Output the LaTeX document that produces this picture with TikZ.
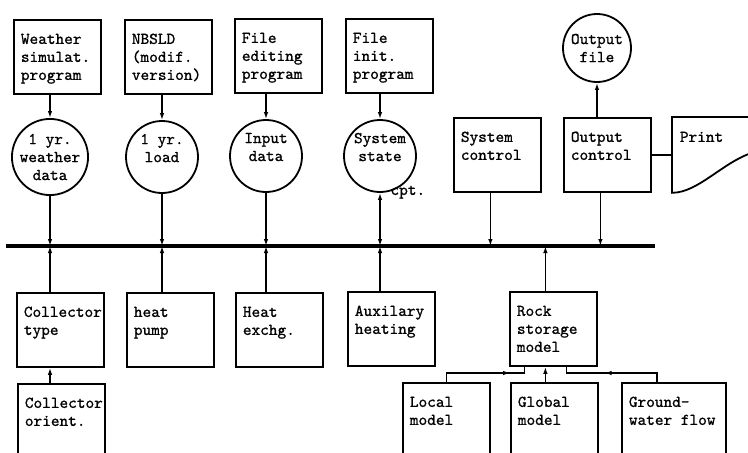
\documentclass[tikz,border=0pt]{standalone}
\usepackage{fontspec}
\newfontfamily\tw{lmmono10-regular.otf}[FakeBold=1]
\usetikzlibrary{arrows.meta,decorations.markings}
% text of a block: top left, first baseline 24pt below the frame
\newcommand{\blk}[2][73pt]{\parbox[c][74pt][t]{#1}{\raggedright\rule{0pt}{24pt}#2}}
\begin{document}
\begin{tikzpicture}[x=1pt,y=-1pt,
	font=\tw\fontsize{16.5}{18}\selectfont,
	>={Latex[length=7pt,width=4.5pt]},
	box/.style={draw,line width=1.8pt,anchor=north west,inner xsep=7pt,inner ysep=0pt},
	dat/.style={draw,line width=1.8pt,circle,minimum size=72pt,inner sep=0pt,align=center},
	link/.style={line width=1.6pt},
	midarr/.style={postaction={decorate},decoration={markings,mark=at position #1 with {\arrow{>}}}}]
	\useasboundingbox (0,0) rectangle (748,453);
	\clip (0,0) rectangle (748,453);

	% programs and the files they make
	\node[box] (wsim) at (13,19) {\blk{Weather\\simulat.\\program}};
	\node[box] (nbsld) at (124,19) {\blk{NBSLD\\(modif.\\version)}};
	\node[box] (fedit) at (234,18) {\blk{File\\editing\\program}};
	\node[box] (finit) at (345,18) {\blk{File\\init.\\program}};
	\node[dat] (wdat) at (50,157) {1 yr.\\weather\\data};
	\node[dat] (load) at (162,157) {1 yr.\\load\\\mbox{}};
	\node[dat] (inp) at (266,156) {Input\\data\\\mbox{}};
	\node[dat] (state) at (380,156) {System\\state\\\mbox{}};
	\node[anchor=base west] (cpt) at ([xshift=7pt,yshift=-2pt]state.south) {cpt.};

	% control and output
	\node[box] (ctrl) at (453,117) {\blk{System\\control}};
	\node[box] (outc) at (563,117) {\blk{Output\\control}};
	\node[dat,minimum size=68pt] (ofile) at (597,48) {Output\\file};
	\node[box,draw=none] (prt) at (672,117) {\blk{Print}};
	\draw[line width=1.8pt] (prt.north east) -- (prt.north west) -- (prt.south west)
		.. controls +(26,0) and +(-30,10) .. +(80,-40);

	% the bus
	\coordinate (busL) at (6,246);
	\coordinate (busR) at (655,246);
	\draw[line width=4pt] (busL) -- (busR);

	% component models
	\node[box] (ctype) at (16,292) {\blk{Collector\\type}};
	\node[box] (hpump) at (126,292) {\blk{heat\\pump}};
	\node[box] (hexch) at (235,292) {\blk{Heat\\exchg.}};
	\node[box] (aux) at (347,291) {\blk{Auxilary\\heating}};
	\node[box] (rock) at (509,291) {\blk{Rock\\storage\\model}};
	\node[box] (orient) at (17,383) {\blk{Collector\\orient.}};
	\node[box] (loc) at (402,382) {\blk{Local\\model}};
	\node[box] (glob) at (510,382) {\blk{Global\\model}};
	\node[box] (gw) at (621,382) {\blk[90pt]{Ground-\\water flow}};

	\foreach \s/\d in {wsim/wdat,nbsld/load,fedit/inp,finit/state}
		\draw[link,->] (\s.south -| \d) -- (\d);
	\foreach \d in {wdat,load,inp}
		\draw[link,->] (\d) -- (\d |- busL);
	\draw[link,<->] (state) -- (state |- busL);
	\foreach \s/\d in {ctype/wdat,hpump/load,hexch/inp,aux/state}
		\draw[link,->] (\s.north -| \d) -- (\d |- busL);
	\draw[link,->] (orient.north -| wdat) -- (ctype.south -| wdat);

	\coordinate (ctrlb) at ([xshift=-7pt]ctrl.south);
	\coordinate (outb) at ([xshift=-7pt]outc.south);
	\draw[link,->] (ctrlb) -- (ctrlb |- busL);
	\draw[link,->] (outb) -- (outb |- busL);
	\draw[link,->] (outc.north -| ofile) -- (ofile);
	\draw[link] (outc.east) -- (outc.east -| prt.west);

	% rock storage and its sub models
	\coordinate (rtop) at ([xshift=-8pt]rock.north);
	\coordinate (rbot) at ([xshift=-8pt]rock.south);
	\draw[link,->] (rtop) -- (rtop |- busL);
	\draw[link,->] (rbot |- glob.north) -- (rbot);
	\draw[link,midarr=0.78] (loc.north) -- ++(0,-9) -| ([xshift=-29pt]rock.south);
	\draw[link,midarr=0.58] ([xshift=-17pt]gw.north) -- ++(0,-9) -| ([xshift=13pt]rock.south);
\end{tikzpicture}
\end{document}
